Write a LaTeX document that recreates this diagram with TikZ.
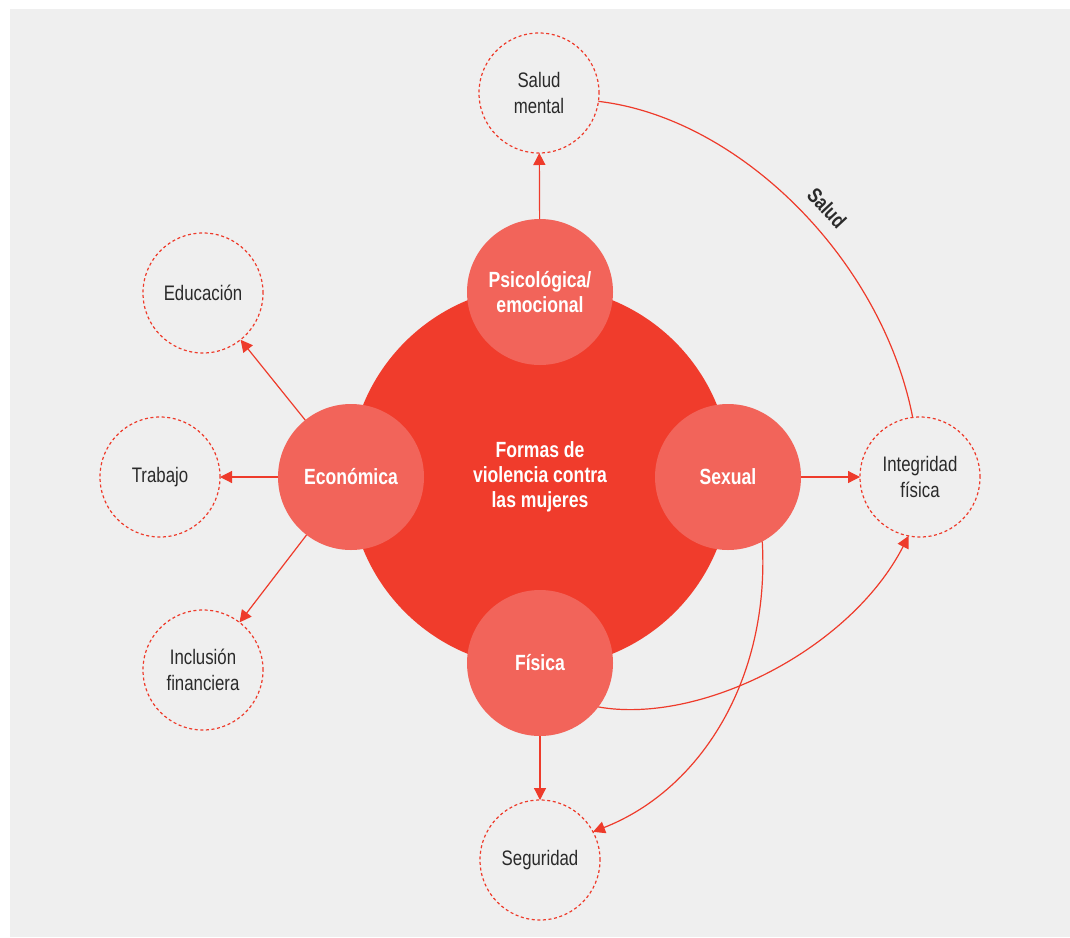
\documentclass[tikz,border=0pt]{standalone}
\usepackage{fontspec}
\setmainfont{Liberation Sans}[FakeStretch=0.8]
\usetikzlibrary{arrows.meta}
\definecolor{bg}{HTML}{EFEFEF}
\definecolor{bigred}{HTML}{F03C2C}
\definecolor{midred}{HTML}{F2645A}
\definecolor{linered}{HTML}{EE3B2B}
\definecolor{txt}{HTML}{2A2A2A}
\begin{document}
\begin{tikzpicture}[x=1pt,y=-1pt,
  core/.style={circle,fill=bigred,minimum size=382pt,inner sep=0pt,outer sep=0pt,text=white,
    font=\bfseries\fontsize{22}{25}\selectfont,align=center},
  form/.style={circle,fill=midred,minimum size=146pt,inner sep=0pt,outer sep=0pt,text=white,
    font=\bfseries\fontsize{22}{25}\selectfont,align=center},
  area/.style={circle,draw=linered,dash pattern=on 3pt off 2.6pt,line width=1.2pt,
    minimum size=120pt,inner sep=0pt,outer sep=0pt,text=txt,
    font=\fontsize{21}{26}\selectfont,align=center},
  link/.style={draw=linered,line width=1.2pt,-{Triangle[length=12pt,width=12pt]}},
  plainlink/.style={draw=linered,line width=1.2pt},
  lbl/.style={text=txt,font=\bfseries\fontsize{21}{25}\selectfont}]
\useasboundingbox (0,0) rectangle (1070,937);
\fill[bg] (10,9) rectangle (1070,937);

% central circle
\node[core] (core) at (540,477) {Formas de\\violencia contra\\las mujeres};

% forms of violence
\node[form] (psi) at (540,292) {Psicológica/\\emocional};
\node[form] (eco) at (351,477) {Económica};
\node[form] (sex) at (728,477) {Sexual};
\node[form] (fis) at (540,663) {Física};

% affected areas
\node[area] (sm)  at (539,93)  {Salud\\mental};
\node[area] (edu) at (203,293) {Educación};
\node[area] (tra) at (160,477) {Trabajo};
\node[area] (inc) at (203,670) {Inclusión\\financiera};
\node[area] (int) at (920,477) {Integridad\\física};
\node[area] (seg) at (540,860) {Seguridad};

% straight arrows
\draw[link] (psi) -- (sm);
\draw[link] (eco) -- (edu);
\draw[link] (eco) -- (tra);
\draw[link] (eco) -- (inc);
\draw[link] (sex) -- (int);
\draw[link] (fis) -- (seg);

% curved connectors
\draw[plainlink] (sm.-8) .. controls (740,118) and (882,260) .. (int.97);
\draw[link] (fis.-37) .. controls (700,725) and (850,650) .. (int.-101);
\draw[link] (sex.-62) .. controls (770,680) and (700,790) .. (seg.28);

% label
\node[lbl,rotate=-47] (salud) at (827,208) {Salud};
\end{tikzpicture}
\end{document}
